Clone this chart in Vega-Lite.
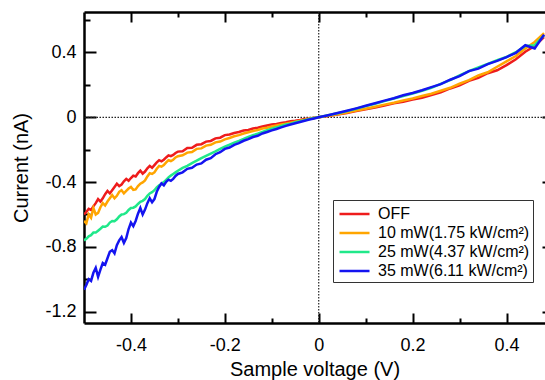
{
  "$schema": "https://vega.github.io/schema/vega-lite/v6.json",
  "width": 461,
  "height": 311,
  "autosize": {"type": "none"},
  "padding": {"left": 84, "top": 12, "right": 0, "bottom": 57},
  "config": {
    "view": {"stroke": null},
    "font": "Liberation Sans",
    "axis": {
      "domainColor": "#000", "domainWidth": 2.5, "tickColor": "#000", "tickWidth": 2,
      "labelFont": "Liberation Sans", "labelFontSize": 18, "labelColor": "#000",
      "titleFont": "Liberation Sans", "titleFontSize": 20, "titleFontWeight": "normal", "titleColor": "#000",
      "grid": false
    }
  },
  "data": {"values": [
    {"v": -0.50, "r": -0.600, "o": -0.640, "g": -0.760, "b": -1.065},
    {"v": -0.495, "r": -0.585, "o": -0.655, "g": -0.750, "b": -1.035},
    {"v": -0.49, "r": -0.565, "o": -0.600, "g": -0.735, "b": -1.000},
    {"v": -0.485, "r": -0.572, "o": -0.620, "g": -0.728, "b": -1.010},
    {"v": -0.48, "r": -0.550, "o": -0.560, "g": -0.712, "b": -0.960},
    {"v": -0.475, "r": -0.530, "o": -0.600, "g": -0.712, "b": -0.930},
    {"v": -0.47, "r": -0.505, "o": -0.590, "g": -0.700, "b": -0.985},
    {"v": -0.465, "r": -0.520, "o": -0.555, "g": -0.688, "b": -0.940},
    {"v": -0.46, "r": -0.500, "o": -0.530, "g": -0.675, "b": -0.900},
    {"v": -0.455, "r": -0.475, "o": -0.545, "g": -0.676, "b": -0.910},
    {"v": -0.45, "r": -0.455, "o": -0.520, "g": -0.668, "b": -0.870},
    {"v": -0.445, "r": -0.470, "o": -0.500, "g": -0.650, "b": -0.830},
    {"v": -0.44, "r": -0.450, "o": -0.480, "g": -0.640, "b": -0.820},
    {"v": -0.435, "r": -0.430, "o": -0.500, "g": -0.642, "b": -0.840},
    {"v": -0.43, "r": -0.410, "o": -0.485, "g": -0.630, "b": -0.790},
    {"v": -0.425, "r": -0.425, "o": -0.460, "g": -0.612, "b": -0.760},
    {"v": -0.42, "r": -0.415, "o": -0.450, "g": -0.600, "b": -0.740},
    {"v": -0.415, "r": -0.395, "o": -0.470, "g": -0.598, "b": -0.775},
    {"v": -0.41, "r": -0.380, "o": -0.455, "g": -0.590, "b": -0.745},
    {"v": -0.405, "r": -0.392, "o": -0.440, "g": -0.572, "b": -0.690},
    {"v": -0.40, "r": -0.375, "o": -0.430, "g": -0.560, "b": -0.650},
    {"v": -0.395, "r": -0.360, "o": -0.448, "g": -0.558, "b": -0.672},
    {"v": -0.39, "r": -0.365, "o": -0.445, "g": -0.550, "b": -0.640},
    {"v": -0.385, "r": -0.345, "o": -0.425, "g": -0.535, "b": -0.595},
    {"v": -0.38, "r": -0.330, "o": -0.410, "g": -0.522, "b": -0.560},
    {"v": -0.375, "r": -0.348, "o": -0.402, "g": -0.516, "b": -0.600},
    {"v": -0.37, "r": -0.335, "o": -0.390, "g": -0.505, "b": -0.570},
    {"v": -0.365, "r": -0.315, "o": -0.365, "g": -0.485, "b": -0.530},
    {"v": -0.36, "r": -0.300, "o": -0.345, "g": -0.470, "b": -0.500},
    {"v": -0.355, "r": -0.312, "o": -0.350, "g": -0.462, "b": -0.525},
    {"v": -0.35, "r": -0.295, "o": -0.340, "g": -0.450, "b": -0.505},
    {"v": -0.345, "r": -0.278, "o": -0.318, "g": -0.432, "b": -0.460},
    {"v": -0.34, "r": -0.265, "o": -0.300, "g": -0.420, "b": -0.430},
    {"v": -0.335, "r": -0.272, "o": -0.305, "g": -0.412, "b": -0.408},
    {"v": -0.33, "r": -0.262, "o": -0.295, "g": -0.400, "b": -0.420},
    {"v": -0.325, "r": -0.248, "o": -0.278, "g": -0.386, "b": -0.398},
    {"v": -0.32, "r": -0.235, "o": -0.265, "g": -0.372, "b": -0.385},
    {"v": -0.315, "r": -0.240, "o": -0.270, "g": -0.360, "b": -0.392},
    {"v": -0.31, "r": -0.232, "o": -0.262, "g": -0.350, "b": -0.380},
    {"v": -0.305, "r": -0.220, "o": -0.248, "g": -0.340, "b": -0.362},
    {"v": -0.30, "r": -0.212, "o": -0.240, "g": -0.330, "b": -0.350},
    {"v": -0.29, "r": -0.210, "o": -0.235, "g": -0.312, "b": -0.340},
    {"v": -0.28, "r": -0.190, "o": -0.218, "g": -0.300, "b": -0.318},
    {"v": -0.27, "r": -0.188, "o": -0.215, "g": -0.283, "b": -0.312},
    {"v": -0.26, "r": -0.170, "o": -0.195, "g": -0.268, "b": -0.292},
    {"v": -0.25, "r": -0.166, "o": -0.192, "g": -0.252, "b": -0.285},
    {"v": -0.24, "r": -0.150, "o": -0.175, "g": -0.238, "b": -0.262},
    {"v": -0.23, "r": -0.146, "o": -0.170, "g": -0.224, "b": -0.252},
    {"v": -0.22, "r": -0.130, "o": -0.155, "g": -0.210, "b": -0.228},
    {"v": -0.21, "r": -0.126, "o": -0.150, "g": -0.195, "b": -0.216},
    {"v": -0.20, "r": -0.110, "o": -0.136, "g": -0.181, "b": -0.195},
    {"v": -0.19, "r": -0.106, "o": -0.128, "g": -0.169, "b": -0.187},
    {"v": -0.18, "r": -0.097, "o": -0.117, "g": -0.156, "b": -0.170},
    {"v": -0.17, "r": -0.091, "o": -0.110, "g": -0.146, "b": -0.160},
    {"v": -0.16, "r": -0.082, "o": -0.100, "g": -0.134, "b": -0.145},
    {"v": -0.15, "r": -0.078, "o": -0.092, "g": -0.121, "b": -0.135},
    {"v": -0.14, "r": -0.069, "o": -0.085, "g": -0.111, "b": -0.122},
    {"v": -0.13, "r": -0.064, "o": -0.078, "g": -0.101, "b": -0.114},
    {"v": -0.12, "r": -0.057, "o": -0.069, "g": -0.090, "b": -0.100},
    {"v": -0.11, "r": -0.051, "o": -0.064, "g": -0.080, "b": -0.091},
    {"v": -0.10, "r": -0.045, "o": -0.057, "g": -0.070, "b": -0.081},
    {"v": -0.09, "r": -0.041, "o": -0.051, "g": -0.062, "b": -0.072},
    {"v": -0.08, "r": -0.035, "o": -0.045, "g": -0.053, "b": -0.062},
    {"v": -0.07, "r": -0.031, "o": -0.039, "g": -0.045, "b": -0.053},
    {"v": -0.06, "r": -0.025, "o": -0.033, "g": -0.039, "b": -0.045},
    {"v": -0.05, "r": -0.021, "o": -0.027, "g": -0.031, "b": -0.037},
    {"v": -0.04, "r": -0.016, "o": -0.021, "g": -0.025, "b": -0.029},
    {"v": -0.03, "r": -0.010, "o": -0.015, "g": -0.018, "b": -0.021},
    {"v": -0.02, "r": -0.007, "o": -0.009, "g": -0.011, "b": -0.014},
    {"v": -0.01, "r": -0.003, "o": -0.004, "g": -0.005, "b": -0.007},
    {"v": 0.00, "r": 0.000, "o": 0.000, "g": 0.000, "b": 0.000},
    {"v": 0.02, "r": 0.008, "o": 0.009, "g": 0.012, "b": 0.013},
    {"v": 0.04, "r": 0.017, "o": 0.019, "g": 0.025, "b": 0.026},
    {"v": 0.06, "r": 0.027, "o": 0.029, "g": 0.038, "b": 0.040},
    {"v": 0.08, "r": 0.038, "o": 0.041, "g": 0.053, "b": 0.055},
    {"v": 0.10, "r": 0.050, "o": 0.053, "g": 0.069, "b": 0.071},
    {"v": 0.12, "r": 0.061, "o": 0.065, "g": 0.084, "b": 0.087},
    {"v": 0.14, "r": 0.072, "o": 0.078, "g": 0.100, "b": 0.103},
    {"v": 0.16, "r": 0.086, "o": 0.090, "g": 0.116, "b": 0.118},
    {"v": 0.18, "r": 0.096, "o": 0.104, "g": 0.131, "b": 0.136},
    {"v": 0.20, "r": 0.110, "o": 0.116, "g": 0.147, "b": 0.150},
    {"v": 0.22, "r": 0.121, "o": 0.131, "g": 0.164, "b": 0.167},
    {"v": 0.24, "r": 0.138, "o": 0.145, "g": 0.182, "b": 0.186},
    {"v": 0.26, "r": 0.154, "o": 0.164, "g": 0.206, "b": 0.205},
    {"v": 0.28, "r": 0.178, "o": 0.182, "g": 0.229, "b": 0.232},
    {"v": 0.30, "r": 0.198, "o": 0.207, "g": 0.258, "b": 0.254},
    {"v": 0.32, "r": 0.225, "o": 0.229, "g": 0.285, "b": 0.285},
    {"v": 0.34, "r": 0.243, "o": 0.258, "g": 0.308, "b": 0.300},
    {"v": 0.36, "r": 0.272, "o": 0.278, "g": 0.330, "b": 0.328},
    {"v": 0.38, "r": 0.290, "o": 0.312, "g": 0.352, "b": 0.348},
    {"v": 0.40, "r": 0.322, "o": 0.345, "g": 0.372, "b": 0.372},
    {"v": 0.42, "r": 0.358, "o": 0.378, "g": 0.402, "b": 0.398},
    {"v": 0.44, "r": 0.405, "o": 0.425, "g": 0.440, "b": 0.445},
    {"v": 0.46, "r": 0.440, "o": 0.465, "g": 0.445, "b": 0.425},
    {"v": 0.48, "r": 0.495, "o": 0.520, "g": 0.505, "b": 0.510}
  ]},
  "layer": [
    {
      "data": {"values": [{}]},
      "mark": {"type": "rule", "strokeDash": [1.5, 1.5], "color": "#222", "strokeWidth": 1.2},
      "encoding": {
        "y": {"datum": 0, "type": "quantitative",
          "scale": {"domain": [-1.27, 0.65], "nice": false, "zero": false},
          "axis": {"orient": "right", "offset": -461, "values": [-1.2, -0.8, -0.4, 0, 0.4], "tickSize": 12, "labels": false, "domain": false, "title": null}}
      }
    },
    {
      "data": {"values": [{}]},
      "mark": {"type": "rule", "strokeDash": [1.5, 1.5], "color": "#222", "strokeWidth": 1.2},
      "encoding": {
        "x": {"datum": 0, "type": "quantitative",
          "scale": {"domain": [-0.5, 0.482], "nice": false, "zero": false},
          "axis": {"orient": "top", "offset": -311, "values": [-0.4, -0.2, 0, 0.2, 0.4], "tickSize": 10, "labels": false, "domain": false, "title": null}}
      }
    },
    {
      "transform": [{"fold": ["r", "o", "g", "b"], "as": ["s", "I"]}],
      "mark": {"type": "line", "strokeWidth": 2.5, "clip": true},
      "encoding": {
        "x": {"field": "v", "type": "quantitative",
          "scale": {"domain": [-0.5, 0.482], "nice": false, "zero": false},
          "axis": {"orient": "bottom", "values": [-0.4, -0.2, 0, 0.2, 0.4], "ticks": false, "labelPadding": 13,
            "labelExpr": "'' + datum.value", "title": "Sample voltage (V)", "titlePadding": 5}},
        "y": {"field": "I", "type": "quantitative",
          "scale": {"domain": [-1.27, 0.65], "nice": false, "zero": false},
          "axis": {"orient": "left", "values": [-1.2, -0.8, -0.4, 0, 0.4], "ticks": false, "labelPadding": 8,
            "labelExpr": "'' + datum.value", "title": "Current (nA)", "titlePadding": 13}},
        "color": {"field": "s", "type": "nominal",
          "scale": {"domain": ["r", "o", "g", "b"], "range": ["#ee1c1c", "#ffa500", "#20e88a", "#1414f0"]},
          "legend": {"orient": "none", "legendX": 249, "legendY": 188, "title": null,
            "labelExpr": "datum.label == 'r' ? 'OFF' : datum.label == 'o' ? '10 mW(1.75 kW/cm²)' : datum.label == 'g' ? '25 mW(4.37 kW/cm²)' : '35 mW(6.11 kW/cm²)'",
            "symbolType": "M-0.79,0H2.37", "symbolSize": 361, "symbolStrokeWidth": 2.5,
            "labelFont": "Liberation Sans", "labelFontSize": 16, "labelColor": "#000",
            "padding": 3, "rowPadding": 0, "labelOffset": 20,
            "strokeColor": "#333", "fillColor": "#fff", "cornerRadius": 0}}
      }
    },
    {
      "data": {"values": [{}]},
      "mark": {"type": "point", "opacity": 0},
      "encoding": {
        "x": {"datum": 0, "type": "quantitative",
          "axis": {"orient": "bottom", "offset": -311, "values": [-0.4, -0.2, 0, 0.2, 0.4], "tickSize": 10, "labels": false, "title": null}},
        "y": {"datum": 0, "type": "quantitative",
          "axis": {"orient": "right", "offset": -461, "values": [-1.0, -0.6, -0.2, 0.2, 0.6], "tickSize": 6, "labels": false, "domain": false, "title": null}}
      }
    },
    {
      "data": {"values": [{}]},
      "mark": {"type": "point", "opacity": 0},
      "encoding": {
        "x": {"datum": 0, "type": "quantitative",
          "axis": {"orient": "bottom", "offset": -311, "values": [-0.3, -0.1, 0.1, 0.3], "tickSize": 5, "labels": false, "domain": false, "title": null}},
        "y": {"datum": 0, "type": "quantitative",
          "axis": {"orient": "left", "offset": -461, "values": [-1.2, -0.8, -0.4, 0, 0.4], "tickSize": 3, "labels": false, "domain": false, "title": null}}
      }
    },
    {
      "data": {"values": [{}]},
      "mark": {"type": "point", "opacity": 0},
      "encoding": {
        "x": {"datum": 0, "type": "quantitative",
          "axis": {"orient": "top", "offset": -311, "values": [-0.3, -0.1, 0.1, 0.3], "tickSize": 5, "labels": false, "domain": false, "title": null}}
      }
    }
  ],
  "resolve": {"axis": {"x": "independent", "y": "independent"}}
}
